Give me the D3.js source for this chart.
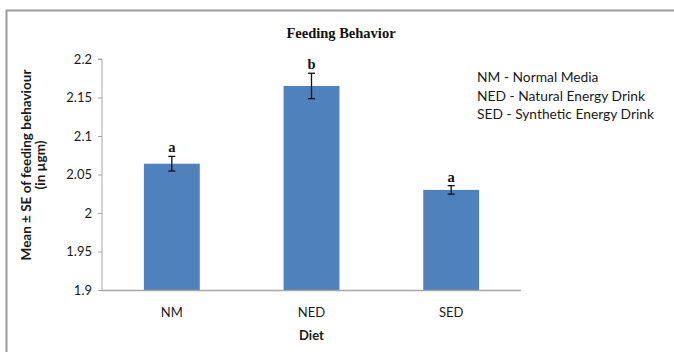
<!DOCTYPE html>
<html>
<head>
<meta charset="utf-8">
<script src="https://cdn.jsdelivr.net/npm/d3@7/dist/d3.min.js"></script>
<style>
  body { margin: 0; background: #fff; }
  svg { display: block; }
</style>
</head>
<body>
<div id="chart"></div>
<script>
const diets = ["NM", "NED", "SED"];
const means = [2.064, 2.165, 2.030];
const errors = [0.0095, 0.0165, 0.0055];
const groupLetters = ["a", "b", "a"];
const yTicks = [1.9, 1.95, 2, 2.05, 2.1, 2.15, 2.2];
const legendLines = ["NM - Normal Media", "NED - Natural Energy Drink", "SED - Synthetic Energy Drink"];

const width = 674, height = 352;
const plot = { left: 102, right: 521, top: 59, bottom: 290 };

const svg = d3.select("#chart").append("svg")
    .attr("width", width)
    .attr("height", height);

// chart frame (top + left edges visible)
svg.append("path")
    .attr("d", `M6.5,${height} L6.5,10.5 L${width},10.5`)
    .attr("fill", "none")
    .attr("stroke", "#9a9a9a")
    .attr("stroke-width", 2);

const x = d3.scaleBand()
    .domain(diets)
    .range([plot.left, plot.right])
    .paddingInner(0.6)
    .paddingOuter(0.3);

const y = d3.scaleLinear()
    .domain([1.9, 2.2])
    .range([plot.bottom, plot.top]);

const sans = "Lato, 'Open Sans', sans-serif";

// y axis
const yAxis = svg.append("g")
    .attr("transform", `translate(${plot.left},0)`)
    .call(d3.axisLeft(y).tickValues(yTicks).tickSize(4).tickPadding(6)
        .tickFormat(d => d3.format("")(+d.toFixed(2))));
yAxis.select(".domain").attr("stroke", "#a6a6a6");
yAxis.selectAll(".tick line").attr("stroke", "#a6a6a6");
yAxis.selectAll(".tick text")
    .attr("font-family", sans)
    .attr("font-size", 13)
    .attr("fill", "#1a1a1a");
yAxis.select(".domain").attr("d", `M-4,${plot.top}H0V${plot.bottom}`);

// bars
svg.selectAll("rect.bar")
    .data(diets)
    .join("rect")
    .attr("class", "bar")
    .attr("x", d => x(d))
    .attr("width", x.bandwidth())
    .attr("y", (d, i) => y(means[i]))
    .attr("height", (d, i) => y(1.9) - y(means[i]))
    .attr("fill", "#4f81bd");

// x axis line
svg.append("line")
    .attr("x1", plot.left).attr("x2", plot.right)
    .attr("y1", plot.bottom + 0.5).attr("y2", plot.bottom + 0.5)
    .attr("stroke", "#a6a6a6")
    .attr("stroke-width", 1.5);

// error bars
const eb = svg.selectAll("g.err")
    .data(diets)
    .join("g")
    .attr("class", "err")
    .attr("stroke", "#111")
    .attr("stroke-width", 1.3);
eb.append("line")
    .attr("x1", d => x(d) + x.bandwidth() / 2)
    .attr("x2", d => x(d) + x.bandwidth() / 2)
    .attr("y1", (d, i) => y(means[i] + errors[i]))
    .attr("y2", (d, i) => y(means[i] - errors[i]));
[1, -1].forEach(s => {
    eb.append("line")
        .attr("x1", d => x(d) + x.bandwidth() / 2 - 3.5)
        .attr("x2", d => x(d) + x.bandwidth() / 2 + 3.5)
        .attr("y1", (d, i) => y(means[i] + s * errors[i]))
        .attr("y2", (d, i) => y(means[i] + s * errors[i]));
});

// significance letters
svg.selectAll("text.letter")
    .data(diets)
    .join("text")
    .attr("class", "letter")
    .attr("x", d => x(d) + x.bandwidth() / 2)
    .attr("y", (d, i) => y(means[i] + errors[i]) - 4)
    .attr("text-anchor", "middle")
    .attr("font-family", "'Liberation Serif', serif")
    .attr("font-weight", "bold")
    .attr("font-size", 14.5)
    .attr("fill", "#111")
    .text((d, i) => groupLetters[i]);

// category labels
svg.selectAll("text.cat")
    .data(diets)
    .join("text")
    .attr("class", "cat")
    .attr("x", d => x(d) + x.bandwidth() / 2)
    .attr("y", 317)
    .attr("text-anchor", "middle")
    .attr("font-family", sans)
    .attr("font-size", 13)
    .attr("fill", "#1a1a1a")
    .text(d => d);

// x title
svg.append("text")
    .attr("x", (plot.left + plot.right) / 2)
    .attr("y", 340)
    .attr("text-anchor", "middle")
    .attr("font-family", sans)
    .attr("font-weight", "bold")
    .attr("font-size", 13)
    .attr("fill", "#1a1a1a")
    .text("Diet");

// y title
const yt = svg.append("text")
    .attr("transform", `translate(0,165) rotate(-90)`)
    .attr("text-anchor", "middle")
    .attr("font-family", sans)
    .attr("font-weight", "bold")
    .attr("font-size", 13.5)
    .attr("fill", "#1a1a1a");
yt.append("tspan").attr("x", 0).attr("y", 31).text("Mean ± SE of feeding behaviour");
yt.append("tspan").attr("x", 0).attr("y", 45).text("(in µgm)");

// chart title
svg.append("text")
    .attr("x", 341)
    .attr("y", 38)
    .attr("text-anchor", "middle")
    .attr("font-family", "'Liberation Serif', serif")
    .attr("font-weight", "bold")
    .attr("font-size", 14.5)
    .attr("fill", "#111")
    .text("Feeding Behavior");

// legend note
svg.selectAll("text.note")
    .data(legendLines)
    .join("text")
    .attr("class", "note")
    .attr("x", 477)
    .attr("y", (d, i) => 82 + i * 18.7)
    .attr("font-family", sans)
    .attr("font-size", 13.8)
    .attr("fill", "#1a1a1a")
    .text(d => d);
</script>
</body>
</html>
